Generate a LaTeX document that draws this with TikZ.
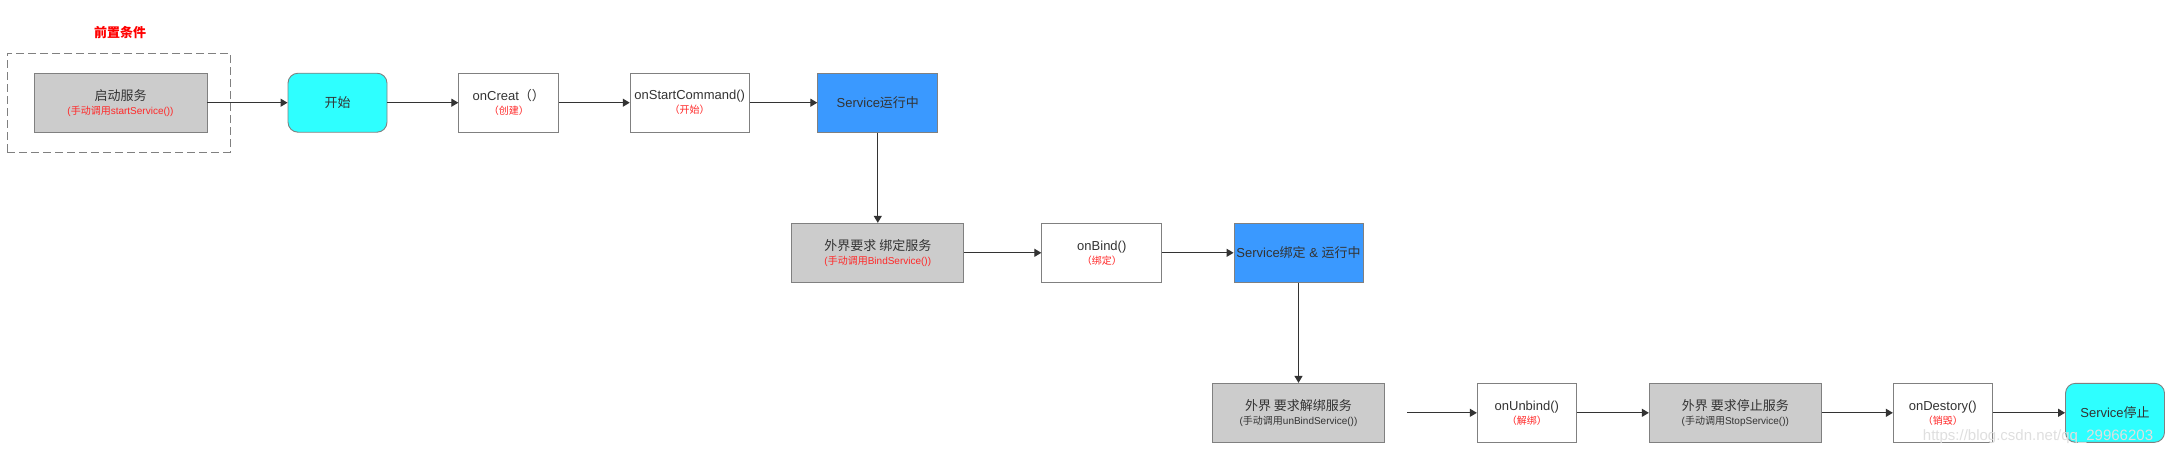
\documentclass[tikz,border=0pt]{standalone}
\usepackage{fontspec}
\setmainfont{Liberation Sans}
\newfontfamily\cjk{Noto Sans CJK SC}
\usetikzlibrary{arrows.meta}
\definecolor{boxline}{RGB}{128,128,128}
\definecolor{grayfill}{RGB}{204,204,204}
\definecolor{endcyan}{RGB}{46,255,255}
\definecolor{runblue}{RGB}{58,153,255}
\definecolor{txt}{RGB}{51,51,51}
\definecolor{subred}{RGB}{255,40,40}
%second line of a box
\def\subline#1#2{\\[-1pt]{\fontsize{10}{12}\selectfont\color{#1}#2}}
\begin{document}
\begin{tikzpicture}[x=1pt, y=-1pt,
  box/.style={draw=boxline, line width=0.9pt, minimum height=59pt, inner sep=0pt,
    align=center, text=txt, font=\fontsize{13}{15}\selectfont},
  callbox/.style={box, fill=grayfill},
  hookbox/.style={box, fill=white},
  statebox/.style={box, fill=runblue},
  endbox/.style={box, fill=endcyan, rounded corners=10pt},
  flow/.style={draw=txt, line width=1.2pt, -{Triangle[length=7pt,width=8pt]}}]
\useasboundingbox (0,0) rectangle (2170,456);

%precondition
\node[text=red, font=\cjk\bfseries\fontsize{13}{15}\selectfont] (title) at (120,33) {前置条件};
\node[draw=boxline, line width=0.9pt, dash pattern=on 8pt off 4pt,
  minimum width=223pt, minimum height=99pt] (pre) at (118.5,102.5) {};

%row 1
\node[callbox, minimum width=173pt] (start) at (120.5,102.7)
  {{\cjk 启动服务}\subline{subred}{(\cjk 手动调用\rmfamily startService())}};
\node[endbox, minimum width=99pt] (go) at (337.5,102.7) {\cjk 开始};
\node[hookbox, minimum width=100pt] (create) at (508.8,102.7)
  {onCreat{\cjk （）}\subline{subred}{\cjk （创建）}};
\node[hookbox, minimum width=119pt] (startcmd) at (689.7,102.7)
  {onStartCommand()\subline{subred}{\cjk （开始）}};
\node[statebox, minimum width=120pt] (running) at (877.8,102.7) {Service{\cjk 运行中}};

%row 2
\node[callbox, minimum width=172pt] (bindreq) at (877.8,252.8)
  {{\cjk 外界要求 绑定服务}\subline{subred}{(\cjk 手动调用\rmfamily BindService())}};
\node[hookbox, minimum width=120pt] (bind) at (1101.8,252.8)
  {onBind()\subline{subred}{\cjk （绑定）}};
\node[statebox, minimum width=129pt] (bound) at (1298.5,252.8) {Service{\cjk 绑定} \& {\cjk 运行中}};

%row 3
\node[callbox, minimum width=172pt] (unbindreq) at (1298.5,412.8)
  {{\cjk 外界 要求解绑服务}\subline{txt}{(\cjk 手动调用\rmfamily unBindService())}};
\node[hookbox, minimum width=99pt] (unbind) at (1526.8,412.8)
  {onUnbind()\subline{subred}{\cjk （解绑）}};
\node[callbox, minimum width=172pt] (stopreq) at (1735.3,412.8)
  {{\cjk 外界 要求停止服务}\subline{txt}{(\cjk 手动调用\rmfamily StopService())}};
\node[hookbox, minimum width=99pt] (destroy) at (1942.8,412.8)
  {onDestory()\subline{subred}{\cjk （销毁）}};
\node[endbox, minimum width=99pt] (stopped) at (2115,412.8) {Service{\cjk 停止}};

%connectors
\draw[flow] (start) -- (go);
\draw[flow] (go) -- (create);
\draw[flow] (create) -- (startcmd);
\draw[flow] (startcmd) -- (running);
\draw[flow] (running.south) -- (bindreq.north);
\draw[flow] (bindreq) -- (bind);
\draw[flow] (bind) -- (bound);
\draw[flow] (bound.south) -- (unbindreq.north);
\coordinate (gap) at (1407,412.8);
\draw[flow] (gap) -- (unbind);
\draw[flow] (unbind) -- (stopreq);
\draw[flow] (stopreq) -- (destroy);
\draw[flow] (destroy) -- (stopped);

%watermark
\node[text=gray!25, font=\fontsize{15}{17}\selectfont] (mark) at (2038,437) {https://blog.csdn.net/qq\_29966203};
\end{tikzpicture}
\end{document}
